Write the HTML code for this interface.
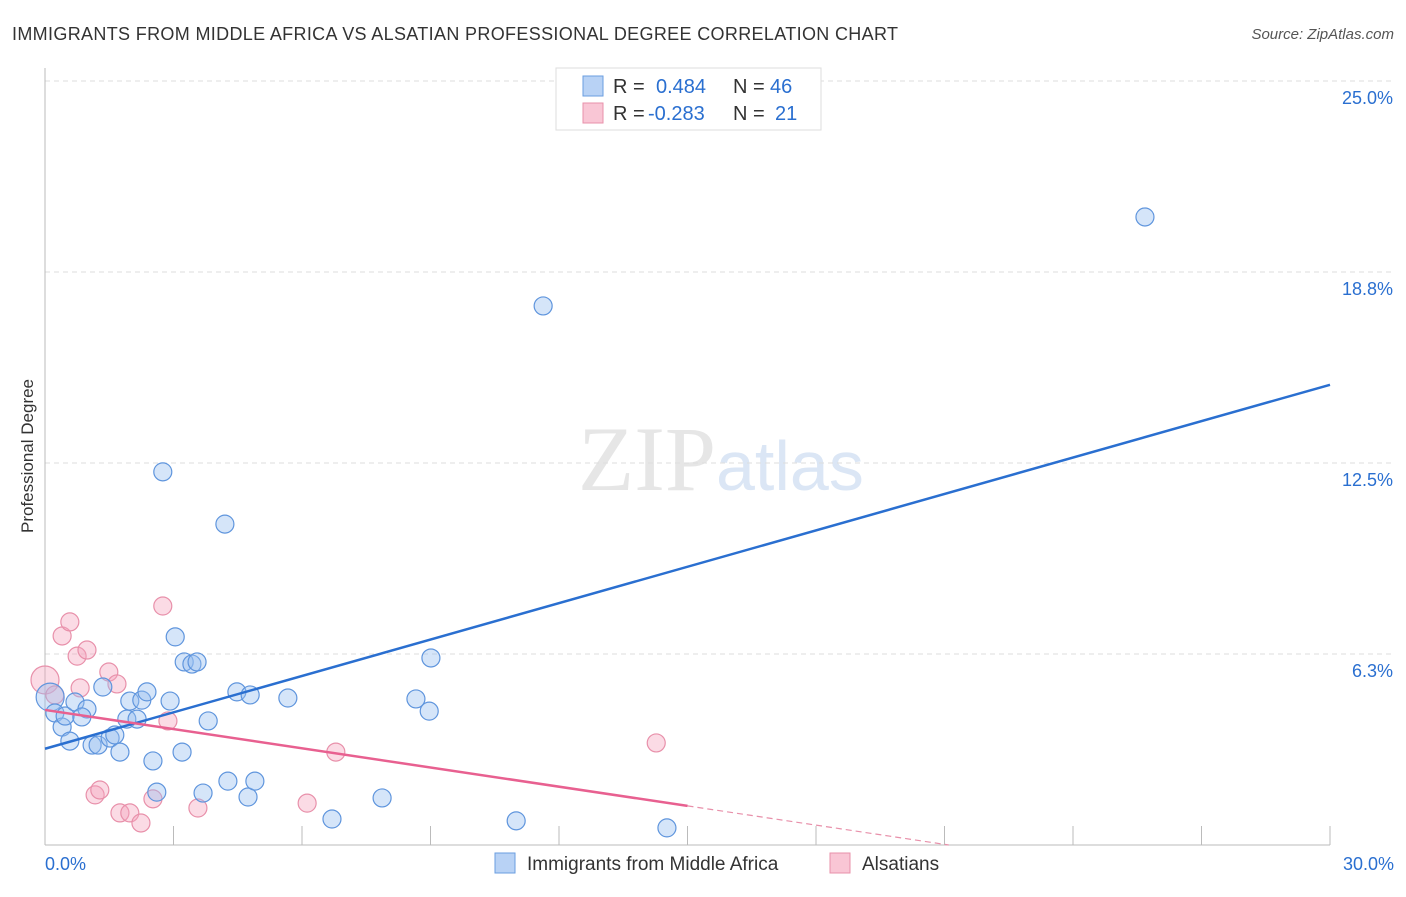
<!DOCTYPE html>
<html><head><meta charset="utf-8"><style>
body{margin:0;background:#fff;font-family:"Liberation Sans",sans-serif;}
</style></head><body>
<svg width="1406" height="892" viewBox="0 0 1406 892" xmlns="http://www.w3.org/2000/svg">
<text x="12" y="40" font-size="18" fill="#333" textLength="886">IMMIGRANTS FROM MIDDLE AFRICA VS ALSATIAN PROFESSIONAL DEGREE CORRELATION CHART</text>
<text x="1394" y="39" font-size="15" fill="#555" font-style="italic" text-anchor="end">Source: ZipAtlas.com</text>
<text x="716" y="490" font-size="92" fill="#e6e6e6" text-anchor="end" font-family="Liberation Serif,serif">ZIP</text>
<text x="716" y="490" font-size="70" fill="#dbe6f5">atlas</text>
<g id="grid"></g>
<g id="axes"></g>
<text transform="translate(33,456) rotate(-90)" font-size="17" fill="#333" text-anchor="middle">Professional Degree</text>
<g id="marks"></g>
<g>
<rect x="556" y="68" width="265" height="62" fill="#fff" stroke="#ddd"/>
<rect x="583" y="76" width="20" height="20" fill="#b8d2f5" stroke="#6a9ee0"/>
<rect x="583" y="103" width="20" height="20" fill="#f9c6d5" stroke="#e890aa"/>
<g font-size="20" fill="#333">
<text x="613" y="93">R =</text><text x="656" y="93" fill="#2a6fd0">0.484</text>
<text x="733" y="93">N =</text><text x="770" y="93" fill="#2a6fd0">46</text>
<text x="613" y="120">R =</text><text x="648" y="120" fill="#2a6fd0">-0.283</text>
<text x="733" y="120">N =</text><text x="775" y="120" fill="#2a6fd0">21</text>
</g>
</g>
<g>
<rect x="495" y="853" width="20" height="20" fill="#b8d2f5" stroke="#6a9ee0"/>
<text x="527" y="870" font-size="19" fill="#333">Immigrants from Middle Africa</text>
<rect x="830" y="853" width="20" height="20" fill="#f9c6d5" stroke="#e890aa"/>
<text x="862" y="870" font-size="19" fill="#333">Alsatians</text>
</g>
</svg>
<script>
const yTicks=[6.25,12.5,18.75,25];
const yTickLabels=["6.3%","12.5%","18.8%","25.0%"];
const xTickCount=10;
const blueX=[0.12,0.23,0.40,0.47,0.58,0.70,0.98,0.86,1.10,1.24,1.35,1.52,1.63,1.75,1.91,1.98,2.15,2.26,2.38,2.52,2.61,2.75,2.92,3.04,3.20,3.25,3.43,3.55,3.69,3.81,4.20,4.27,4.48,4.74,4.79,4.90,5.67,6.70,7.87,8.66,8.97,9.01,11.0,11.63,14.52,25.68];
const blueY=[4.84,4.32,3.86,4.22,3.40,4.68,4.45,4.19,3.27,3.27,5.17,3.50,3.60,3.04,4.12,4.71,4.12,4.74,5.01,2.75,1.73,12.21,4.71,6.81,3.04,5.99,5.92,5.99,1.70,4.06,10.50,2.09,5.01,1.57,4.91,2.09,4.81,0.85,1.54,4.78,4.38,6.12,0.79,17.64,0.56,20.55];
const pinkX=[0,0.23,0.40,0.58,0.75,0.82,0.98,1.17,1.28,1.49,1.68,1.75,1.98,2.24,2.52,2.75,2.87,3.57,6.12,6.79,14.27];
const pinkY=[5.40,4.91,6.84,7.30,6.18,5.14,6.38,1.64,1.80,5.66,5.27,1.05,1.05,0.72,1.51,7.82,4.06,1.21,1.37,3.04,3.34];
const blueLine=[[0,3.15],[30,15.06]];
const pinkLine=[[0,4.42],[15,1.28]];
const pinkDash=[[15,1.28],[21.1,0]];
const NS="http://www.w3.org/2000/svg";
const X=v=>45+v*(1285/30), Y=v=>845-v*30.56;
function mk(t,a,p){const e=document.createElementNS(NS,t);for(const k in a)e.setAttribute(k,a[k]);p.appendChild(e);return e;}
const grid=document.getElementById('grid'),axes=document.getElementById('axes'),marks=document.getElementById('marks');
yTicks.forEach((t,i)=>{
 const l=mk('line',{x1:45,x2:1394,y1:Y(t),y2:Y(t),stroke:'#ddd','stroke-dasharray':'5,4'},grid);
 
 
 const tx=mk('text',{x:1393,y:Y(t)+23,'font-size':18,fill:'#2a6fd0','text-anchor':'end'},grid);
 tx.textContent=yTickLabels[i];
 
 
});
mk('line',{x1:45,x2:45,y1:68,y2:845,stroke:'#bbb'},axes);
mk('line',{x1:45,x2:1330,y1:845,y2:845,stroke:'#bbb'},axes);
for(let i=0;i<=xTickCount;i++){const tk=mk('line',{x1:X(i*3),x2:X(i*3),y1:826,y2:845,stroke:'#bbb'},axes);
 
 }
const x0=mk('text',{x:45,y:870,'font-size':18,fill:'#2a6fd0'},axes);x0.textContent='0.0%';


const x1=mk('text',{x:1394,y:870,'font-size':18,fill:'#2a6fd0','text-anchor':'end'},axes);x1.textContent='30.0%';


function dots(xs,ys,fill,stroke,name){xs.forEach((x,i)=>{const r=(i===0)?14:9;
 const c=mk('circle',{cx:X(x),cy:Y(ys[i]),r:r,fill:fill,stroke:stroke,'stroke-width':1.2},marks);
 
 });}
dots(pinkX,pinkY,'rgba(245,165,190,0.4)','#e890aa','alsatian-point');
dots(blueX,blueY,'rgba(150,190,240,0.4)','#5f95dd','middle-africa-point');
const bl=mk('line',{x1:X(blueLine[0][0]),y1:Y(blueLine[0][1]),x2:X(blueLine[1][0]),y2:Y(blueLine[1][1]),stroke:'#2a6fd0','stroke-width':2.5},marks);


const pl=mk('line',{x1:X(pinkLine[0][0]),y1:Y(pinkLine[0][1]),x2:X(pinkLine[1][0]),y2:Y(pinkLine[1][1]),stroke:'#e86090','stroke-width':2.5},marks);


const pd=mk('line',{x1:X(pinkDash[0][0]),y1:Y(pinkDash[0][1]),x2:X(pinkDash[1][0]),y2:Y(pinkDash[1][1]),stroke:'#e890aa','stroke-width':1.2,'stroke-dasharray':'6,4'},marks);


</script>
</body></html>
